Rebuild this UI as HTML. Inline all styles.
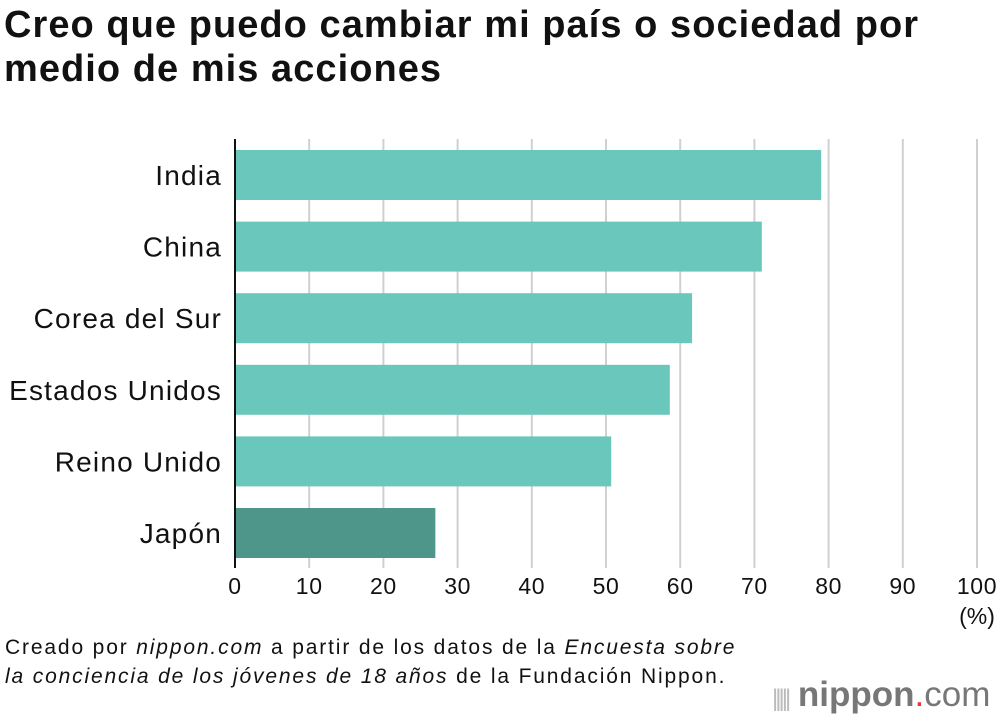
<!DOCTYPE html>
<html><head><meta charset="utf-8"><style>
body{margin:0;width:1000px;height:720px;background:#fff;font-family:"Liberation Sans",Arial,sans-serif;overflow:hidden;position:relative}
h1{position:absolute;left:4px;top:3px;margin:0;font-size:38px;line-height:44px;font-weight:bold;color:#111;letter-spacing:1.05px;white-space:nowrap}
.foot{position:absolute;left:5px;top:633px;font-size:21px;line-height:29px;color:#111;letter-spacing:1.85px;white-space:nowrap}
.logo{position:absolute;left:772px;top:675px;font-size:35px;color:#777;white-space:nowrap}
</style></head><body>
<h1>Creo que puedo cambiar mi país o sociedad por<br>medio de mis acciones</h1>
<svg id="chart" width="1000" height="640" style="position:absolute;left:0;top:0"></svg>
<div class="foot">Creado por <i>nippon.com</i> a partir de los datos de la <i>Encuesta sobre<br>la conciencia de los jóvenes de 18 años</i> de la Fundación Nippon.</div>
<div class="logo"><span style="font-size:24px;letter-spacing:-3px;color:#bbb">|||||</span> <b>nippon</b><span style="color:#e33">.</span>com</div>
<script>
const categories=["India","China","Corea del Sur","Estados Unidos","Reino Unido","Japón"];
const values=[79.0,71.0,61.6,58.6,50.7,27.0];
const ticks=[0,10,20,30,40,50,60,70,80,90,100];
const ns="http://www.w3.org/2000/svg";
const svg=document.getElementById('chart');
const x=v=>235+v*7.42;
const yTop=i=>150+i*71.6;
function mk(t,a){const e=document.createElementNS(ns,t);for(const k in a)e.setAttribute(k,a[k]);svg.appendChild(e);return e;}
ticks.forEach(t=>{
  if(t>0){const g=mk('line',{x1:x(t),x2:x(t),y1:139,y2:568,stroke:'#d0d0d0','stroke-width':2});
  
  }
  const tx=mk('text',{x:x(t),y:594,'text-anchor':'middle','font-size':23,'letter-spacing':0.6,fill:'#111'});
  tx.textContent=t;
  
  
});
const pc=mk('text',{x:x(100),y:624,'text-anchor':'middle','font-size':23,fill:'#111'});
pc.textContent='(%)';


categories.forEach((c,i)=>{
  const r=mk('rect',{x:x(0),y:yTop(i),width:x(values[i])-x(0),height:50,fill:c==='Japón'?'#4e968a':'#6ac7bb'});
  
  
  const t=mk('text',{x:222,y:yTop(i)+35,'text-anchor':'end','font-size':28,'letter-spacing':1.2,fill:'#111'});
  t.textContent=c;
  
  
});
const ax=mk('line',{x1:235,x2:235,y1:139,y2:568,stroke:'#111','stroke-width':2});


</script>
</body></html>
